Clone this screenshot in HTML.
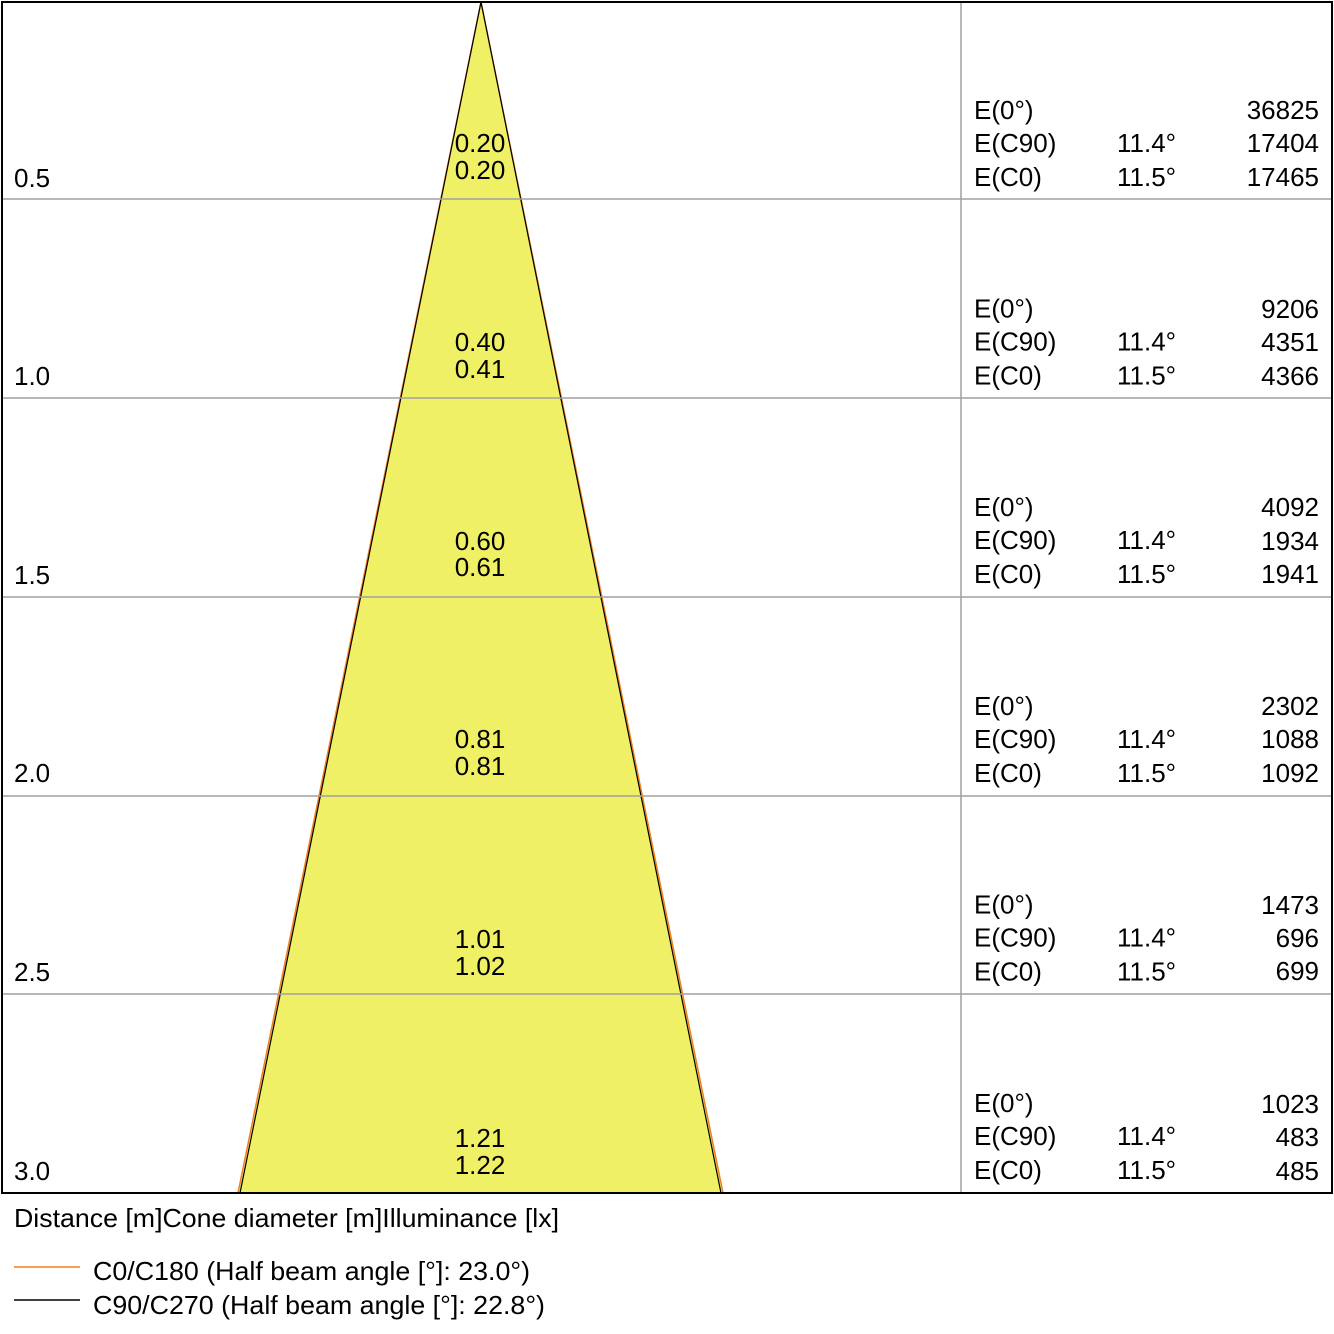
<!DOCTYPE html>
<html><head><style>body{margin:0;background:#fff}svg{display:block}</style></head><body>
<svg width="1334" height="1334" viewBox="0 0 1334 1334" font-family="Liberation Sans, Arial, sans-serif" font-size="26" fill="#000">
<polygon points="481,2 238,1193 723,1193" fill="#f0f066" stroke="#f07f20" stroke-width="1.5"/>
<polyline points="240,1193 481,2 721,1193" fill="none" stroke="#000" stroke-width="1.2"/>
<g stroke="#a0a0a0" stroke-width="1.5">
<line x1="2" y1="199" x2="1332" y2="199"/><line x1="2" y1="398" x2="1332" y2="398"/>
<line x1="2" y1="597" x2="1332" y2="597"/><line x1="2" y1="796" x2="1332" y2="796"/>
<line x1="2" y1="994" x2="1332" y2="994"/><line x1="961" y1="2" x2="961" y2="1193"/>
</g>
<rect x="2" y="2" width="1330" height="1191" fill="none" stroke="#000" stroke-width="2"/>
<g>
<text x="14" y="187">0.5</text><text x="14" y="385">1.0</text><text x="14" y="584">1.5</text>
<text x="14" y="782">2.0</text><text x="14" y="981">2.5</text><text x="14" y="1180">3.0</text>
</g>
<g text-anchor="middle">
<text x="480" y="152">0.20</text><text x="480" y="179">0.20</text>
<text x="480" y="351">0.40</text><text x="480" y="378">0.41</text>
<text x="480" y="550">0.60</text><text x="480" y="576">0.61</text>
<text x="480" y="748">0.81</text><text x="480" y="775">0.81</text>
<text x="480" y="948">1.01</text><text x="480" y="975">1.02</text>
<text x="480" y="1147">1.21</text><text x="480" y="1174">1.22</text>
</g>
<g id="r0">
<text x="974" y="119">E(0°)</text><text x="974" y="152">E(C90)</text><text x="974" y="186">E(C0)</text>
<text x="1117" y="152">11.4°</text><text x="1117" y="186">11.5°</text>
</g>
<use href="#r0" y="198.6"/><use href="#r0" y="397.2"/><use href="#r0" y="595.8"/><use href="#r0" y="794.4"/><use href="#r0" y="993"/>
<g text-anchor="end">
<text x="1319" y="119">36825</text><text x="1319" y="152">17404</text><text x="1319" y="186">17465</text>
<text x="1319" y="318">9206</text><text x="1319" y="351">4351</text><text x="1319" y="385">4366</text>
<text x="1319" y="516">4092</text><text x="1319" y="550">1934</text><text x="1319" y="583">1941</text>
<text x="1319" y="715">2302</text><text x="1319" y="748">1088</text><text x="1319" y="782">1092</text>
<text x="1319" y="914">1473</text><text x="1319" y="947">696</text><text x="1319" y="980">699</text>
<text x="1319" y="1113">1023</text><text x="1319" y="1146">483</text><text x="1319" y="1180">485</text>
</g>
<text x="14" y="1227" textLength="545" lengthAdjust="spacingAndGlyphs">Distance [m]Cone diameter [m]Illuminance [lx]</text>
<line x1="14" y1="1267" x2="80" y2="1267" stroke="#f07f20" stroke-width="1.5"/>
<text x="93" y="1280" textLength="437" lengthAdjust="spacingAndGlyphs">C0/C180 (Half beam angle [°]: 23.0°)</text>
<line x1="14" y1="1300" x2="80" y2="1300" stroke="#000" stroke-width="1.5"/>
<text x="93" y="1314" textLength="452" lengthAdjust="spacingAndGlyphs">C90/C270 (Half beam angle [°]: 22.8°)</text>
</svg>
</body></html>
